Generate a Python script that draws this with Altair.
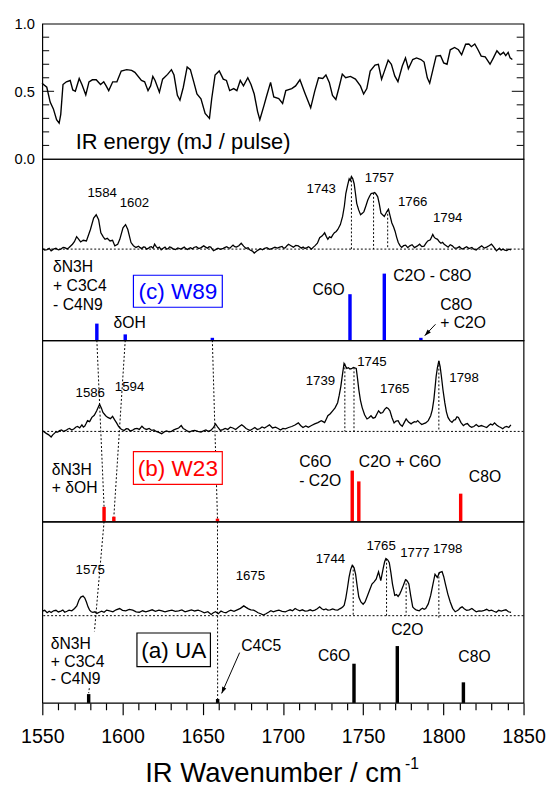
import altair as alt
import pandas as pd

FONT = "Liberation Sans"

# ---------------- data ----------------
# IR pulse energy: (wavenumber / cm-1, energy / mJ per pulse)
ir_energy = [
    (1549.8, 0.56), (1552.8, 0.53), (1554.9, 0.42), (1556.9, 0.37), (1558.9, 0.29), (1560.5, 0.265),
    (1561.5, 0.33), (1562.9, 0.55), (1565, 0.57), (1567.4, 0.58), (1569, 0.51), (1570.6, 0.50),
    (1573, 0.595), (1574.7, 0.55), (1577.1, 0.474), (1579.1, 0.57), (1581.2, 0.585), (1583.6, 0.585),
    (1586.3, 0.55), (1588.3, 0.57), (1589.8, 0.54), (1591.4, 0.505), (1593.9, 0.57), (1596.5, 0.57),
    (1599.2, 0.65), (1602.6, 0.66), (1605.7, 0.655), (1607.7, 0.64), (1611.8, 0.58), (1613.8, 0.57),
    (1615.9, 0.505), (1617.5, 0.54), (1618.9, 0.61), (1620.3, 0.58), (1623, 0.494), (1625, 0.59),
    (1628.1, 0.625), (1630.5, 0.66), (1632.1, 0.62), (1634.2, 0.47), (1635.8, 0.434), (1637.9, 0.53),
    (1640.3, 0.68), (1642.3, 0.66), (1644.4, 0.57), (1646.4, 0.48), (1648.9, 0.445), (1651.5, 0.337),
    (1654.2, 0.30), (1655.6, 0.445), (1657.7, 0.62), (1660.3, 0.65), (1662.8, 0.59), (1664.8, 0.58),
    (1666.8, 0.505), (1669.3, 0.52), (1671.3, 0.505), (1673.4, 0.58), (1675.4, 0.54), (1678.1, 0.60),
    (1680.1, 0.55), (1682.1, 0.48), (1684.2, 0.35), (1685.6, 0.29), (1688.3, 0.40), (1689.7, 0.46),
    (1692.3, 0.566), (1694.3, 0.458), (1697.4, 0.446), (1699.8, 0.41), (1701.8, 0.506), (1705.5, 0.52),
    (1707.9, 0.54), (1710.6, 0.585), (1713.6, 0.49), (1717.3, 0.378), (1719.8, 0.50), (1722.2, 0.60),
    (1724.8, 0.595), (1726.8, 0.62), (1728.9, 0.566), (1730.9, 0.47), (1733, 0.44), (1735, 0.53),
    (1737, 0.627), (1739.1, 0.60), (1742.1, 0.61), (1745.2, 0.59), (1748.3, 0.54), (1750.3, 0.48),
    (1752.3, 0.52), (1754.4, 0.65), (1757.4, 0.694), (1759.5, 0.70), (1761.5, 0.59), (1763, 0.64),
    (1765.6, 0.73), (1767.6, 0.70), (1769.7, 0.614), (1771.7, 0.571), (1774.4, 0.687), (1776.4, 0.747),
    (1778.2, 0.667), (1780.9, 0.735), (1783.3, 0.747), (1786, 0.735), (1788, 0.716), (1790, 0.60),
    (1791.5, 0.56), (1793.5, 0.66), (1795.5, 0.76), (1798.2, 0.764), (1800.2, 0.71), (1802.3, 0.70),
    (1804.3, 0.807), (1807, 0.824), (1809.4, 0.807), (1811.4, 0.77), (1813.9, 0.848), (1815.9, 0.85),
    (1817.5, 0.83), (1819.6, 0.85), (1821.6, 0.807), (1823.6, 0.76), (1826.1, 0.754), (1829.1, 0.70),
    (1831.2, 0.747), (1833.4, 0.80), (1835.5, 0.77), (1837.5, 0.788), (1838.9, 0.764), (1840.4, 0.788),
    (1841.6, 0.747), (1843, 0.735),
]

# IRPD spectra: (wavenumber / cm-1, intensity, arb. units above baseline)
w89_trace = [
    (1550, 0.7), (1551.5, -1.0), (1553, -0.5), (1554.3, 0.8), (1555.5, -1.7), (1557, 0.0), (1558.5, 1.0),
    (1560, -0.8), (1561.6, 0), (1563, 1.8), (1564, 1.5), (1565.5, 0.2), (1566.7, 1.7),
    (1568.8, 5), (1570, 7.5), (1571.4, 12.7), (1572.5, 10.5), (1573.9, 7.3), (1575.5, 9.0), (1577.5, 8.3),
    (1580, 20), (1582, 31.7), (1583.6, 35), (1585.1, 30), (1586.5, 16.7), (1588, 12.5), (1589.1, 10),
    (1590.5, 11), (1592.2, 8.3), (1593.8, 9.0), (1595.2, 3.3), (1597, 5), (1598.3, 10), (1600.3, 21.7),
    (1601.9, 25), (1603.3, 20), (1605.3, 6.7), (1606.8, 3.5), (1608.4, 1.7), (1610, 3.0), (1611, 1.5),
    (1612, 0.5), (1613, 2.2), (1614, 2.0), (1615, 0.0), (1616, 0.7), (1617, 2.0), (1618, 2.5), (1619, 1.0),
    (1620, 5), (1621, 2.5), (1622, 1.0), (1623, 2.0), (1624.1, -0.7), (1625.3, 0.8), (1626.5, 2.0),
    (1627.5, 0.0), (1628.5, 0.5), (1629.3, 2.2), (1630.2, 1.7), (1631.5, 0.3), (1633, -0.5), (1634.5, 1.2),
    (1636.3, 0), (1637.4, 1.0), (1638.5, 2.0), (1639.5, 0.5), (1640.5, -0.5), (1641.5, 0.8), (1642.5, 1.5),
    (1643.5, 0.2), (1644.5, 1.7), (1646, 2.5), (1647.5, 0.5), (1649, 1.5), (1650.6, 3.3), (1651.8, 2.0),
    (1653, 1.0), (1654, 2.5), (1655, 2.0), (1656.7, -1.7), (1658, -0.5), (1659.5, 1.0), (1661, -0.3),
    (1662.8, 0.7), (1664, 1.8), (1665, 2.5), (1666, 1.2), (1667, 1.0), (1668, 2.8), (1668.9, 4),
    (1670, 2.5), (1671, 2.0), (1672.5, 3.5), (1674, 6), (1675.5, 3.0), (1677, 0.7), (1678.3, 1.5),
    (1679.5, -1.0), (1681, -2.0), (1682.1, -4), (1683.3, -2.5), (1684.5, -1.0), (1686, 0.5), (1687.3, -0.7),
    (1688.6, 0.8), (1690, 1.5), (1691.7, -0.3), (1693.4, 0.7), (1695, 2.0), (1696.5, 1.0), (1698, 2.0),
    (1699.5, 2.7), (1700.5, 0.8), (1701.5, 1.5), (1702.5, 3.5), (1703.5, 5), (1705, 3.5), (1706.5, 2.0),
    (1708, 3.8), (1709.6, 3.3), (1710.5, 2.2), (1711.5, 1.0), (1712.6, 2.2), (1713.7, 0.7), (1715, 1.5),
    (1716, 2.5), (1717, 1.2), (1717.8, 0), (1719, 2.0), (1719.9, 3.3), (1721.5, 6.0), (1722.9, 11.7),
    (1724.5, 13.5), (1726, 16.7), (1727, 13.0), (1728, 10), (1729, 12.5), (1730.1, 11.7), (1731.1, 14.5),
    (1732.1, 16.7), (1733.2, 18.0), (1734.2, 20), (1735.8, 25.0), (1737.2, 33.3), (1738.3, 44.0),
    (1739.2, 56.7), (1740.3, 65.0), (1741.3, 71.7), (1742, 70.0), (1742.7, 74), (1743.5, 72.0),
    (1744.4, 66.7), (1745.2, 57.0), (1746, 46.7), (1747.2, 40.0), (1748.4, 35), (1749.5, 36.5),
    (1750.5, 38.3), (1751.7, 44.0), (1752.9, 50), (1754, 54.0), (1755, 56.7), (1756, 57.0), (1757.2, 57.7),
    (1758.1, 56.0), (1759.1, 53.3), (1760.1, 46.0), (1761.1, 36.7), (1762.1, 35.0), (1763.2, 33.3),
    (1764.8, 38.3), (1765.8, 40.7), (1766.8, 34.0), (1767.9, 26.7), (1769, 22.5), (1769.9, 18.3),
    (1770.9, 12.0), (1771.9, 6.7), (1773, 3.5), (1774, 1.7), (1775.2, 3.5), (1776.5, 4.0), (1777.8, 1.5),
    (1779.1, 3.3), (1780.5, 4.5), (1782, 1.5), (1783.6, 3.0), (1785.2, 5), (1786.6, 2.5), (1788, 3.0),
    (1789.2, 6.0), (1790.3, 8.3), (1791.9, 9.5), (1793.4, 15), (1794.2, 12.5), (1795, 11), (1796.4, 10),
    (1797.5, 7.5), (1798.5, 6.0), (1799.5, 7.0), (1800.5, 5), (1801.8, 3.5), (1803, 2.0), (1804.3, 4.5),
    (1805.6, 3.3), (1807, 1.0), (1808.5, 1.0), (1810, 2.5), (1811.7, 0), (1813, 1.0), (1814.5, 2.5),
    (1816, 0.5), (1817.8, 1.7), (1819, 0.0), (1820.5, -1.0), (1822.2, 1.5), (1823.9, 3.3), (1825.5, 1.0),
    (1827, 2.0), (1828.5, 3.5), (1830, 5), (1831.5, 2.0), (1833.1, -1.7), (1834, -0.5), (1835, 1.0),
    (1836, -1.0), (1837.2, 0), (1838.3, -1.0), (1839.5, -1.5), (1840.8, 0.0), (1842.2, -0.7),
]
w23_trace = [
    (1550, 1), (1551.2, -0.5), (1552.5, -2.0), (1554, -3.5), (1555.5, -5.7), (1556.5, -3.5), (1557.5, -2.0),
    (1558.5, -0.5), (1559.6, -0.7), (1560.8, 0.8), (1562, 1.5), (1563.3, 0.0), (1564.7, 1), (1566, 2.5),
    (1567, 3.0), (1568.4, 1.5), (1569.8, 2.7), (1571, 4.5), (1572, 5.0), (1573.3, 3.5), (1574.7, 6.7),
    (1575.6, 4.5), (1576.5, 5.5), (1577.3, 8.0), (1578.2, 11), (1579.5, 10.0), (1580.9, 14.3),
    (1582.4, 16.5), (1583.9, 21), (1585.7, 27.7), (1586.8, 24.0), (1587.8, 19.3), (1589.5, 16),
    (1590.8, 14.3), (1592.5, 13), (1593.8, 15.3), (1595, 12.0), (1596.3, 8.7), (1597.6, 5.0),
    (1598.9, 2.7), (1600, 1.5), (1601, 1.0), (1602.3, 2.8), (1603.5, 2.5), (1604.8, 0.5), (1606, 1),
    (1607.5, 2.5), (1609, 3.0), (1610.5, 2.0), (1612.1, 5.3), (1613.5, 3.0), (1615, 2.0), (1616.6, 3.0),
    (1618.3, 1), (1619.6, 1.5), (1621, 0.0), (1622.6, -1.0), (1624.4, -2.3), (1626, -0.5), (1627.5, 0.5),
    (1629, -0.5), (1630.5, 0), (1632, 1.5), (1633.5, 2.5), (1635, 3.5), (1636.6, 6), (1637.8, 3.0),
    (1639, 2.0), (1640.3, 0.5), (1641.7, -0.7), (1643.3, 0.5), (1645, 1.0), (1647, 0.0), (1648.9, -0.7),
    (1650.5, 0.5), (1652, 1.5), (1653.5, 0.0), (1655, 1), (1656.5, 3.5), (1658, 7.7), (1659.5, 4.0),
    (1661, 1), (1662.5, 1.8), (1664, 3.0), (1665.6, 2.0), (1667.2, 4.3), (1668.8, 3.5), (1670.5, 2.0),
    (1672.4, 4.5), (1674.3, 6.7), (1675.7, 5.0), (1677, 3.0), (1678.2, 2.0), (1679.4, 1), (1681, 2.5),
    (1682.5, 4.0), (1684, 2.0), (1685.5, 2.7), (1687, 4.5), (1688.5, 3.5), (1690, 5.0), (1691.6, 6.7),
    (1693.5, 3.5), (1695.4, 4.3), (1697, 3.0), (1698.5, 1.5), (1700, 3.0), (1701.5, 2.7), (1703.5, 4.0),
    (1705.5, 5.0), (1707.5, 6.5), (1709.6, 8.7), (1711, 6.0), (1712.5, 4.0), (1714.2, 5.5), (1715.8, 4.3),
    (1717.8, 6.0), (1719.8, 7.7), (1721.8, 9.0), (1723.9, 11), (1725, 10.0), (1726, 9.0), (1727, 12.5),
    (1728, 16), (1729.5, 18.0), (1731, 21), (1732.5, 24.0), (1734.1, 29.3), (1735.1, 37.0), (1736.1, 46),
    (1737.1, 58.0), (1738.1, 69.3), (1739.8, 64.3), (1740.8, 65.0), (1741.8, 63.7), (1742.8, 64.0),
    (1743.9, 65.3), (1745.7, 64.3), (1746.5, 54.0), (1747.3, 42.7), (1748.3, 32.0), (1749.4, 24.3),
    (1750.9, 17.0), (1752.4, 12.7), (1753.6, 14.0), (1754.9, 16), (1756.2, 13.5), (1757.5, 14.3),
    (1758.5, 17.5), (1759.6, 21), (1760.9, 18.5), (1762.2, 19.3), (1763.4, 22.5), (1764.6, 24.3),
    (1765.6, 23.5), (1766.7, 21), (1768, 14.0), (1769.3, 8.7), (1770.5, 10.5), (1771.8, 11), (1773.1, 7.0),
    (1774.4, 5.3), (1775.6, 9.0), (1776.8, 12.7), (1778.3, 9.5), (1779.9, 7.7), (1781, 9.0), (1782, 10),
    (1783, 9.5), (1784, 11), (1785.2, 9.0), (1786.5, 7.0), (1787.8, 8.0), (1789, 8.7), (1790.6, 11.0),
    (1792.1, 16), (1793.1, 22.0), (1794.1, 32.7), (1794.8, 44.0), (1795.5, 56), (1796.3, 65.0),
    (1797.2, 72), (1798, 66.0), (1798.8, 56), (1799.8, 42.0), (1800.9, 29.3), (1801.9, 20.0),
    (1802.9, 14.3), (1804.1, 11.0), (1805.4, 9.3), (1806.5, 11.5), (1807.5, 12), (1808.5, 15.0),
    (1809.4, 14.3), (1811, 9.0), (1812.5, 6), (1813.8, 7.5), (1815, 8.0), (1816.3, 5.5), (1817.6, 4.3),
    (1819, 5.0), (1820.5, 7.0), (1822, 5.0), (1823.7, 6), (1825.3, 5.0), (1827, 4.0), (1828.3, 6.0),
    (1829.5, 7.5), (1830.7, 6.5), (1831.9, 8.7), (1833.2, 6.5), (1834.5, 5.0), (1835.8, 4.0), (1837, 2.7),
    (1838.3, 4.5), (1839.5, 5.0), (1840.8, 4.0), (1842.1, 6.7),
]
ua_trace = [
    (1550, 4.7), (1551.5, 5.5), (1553, 3.0), (1554.3, 4.5), (1555.5, 3.3), (1557, 5.0), (1558.5, 5.5),
    (1560, 3.8), (1561.6, 4.7), (1562.8, 5.8), (1564, 3.5), (1565.4, 4.5), (1566.7, 5.7), (1568.4, 5.0),
    (1570.1, 7.3), (1571.5, 10.0), (1572.8, 15.7), (1574, 19.0), (1575.4, 20), (1576.5, 18.0),
    (1577.5, 14), (1578.5, 9.0), (1579.5, 5.7), (1580.5, 4.0), (1581.5, 3.5), (1582.8, 4.0), (1584, 2.3),
    (1585.5, 3.5), (1587, 4.5), (1588.5, 3.5), (1590.1, 5.7), (1592, 4.8), (1594, 4.0), (1596, 6.0),
    (1598.2, 7.3), (1600, 5.5), (1602, 5.0), (1604.2, 6.5), (1606.4, 5.7), (1608.5, 4.0), (1610.5, 3.5),
    (1612.5, 5.0), (1614.5, 4), (1616.5, 5.0), (1618.5, 6.0), (1620.5, 4.5), (1622.7, 5.7), (1624.6, 5.0),
    (1626.5, 4.0), (1628.6, 5.0), (1630.8, 5.7), (1632.9, 4.5), (1635, 5.0), (1637, 5.8), (1639, 4),
    (1641, 5.0), (1643, 6.0), (1645, 4.8), (1647.1, 5.7), (1649, 4.5), (1651, 3.0), (1653.2, 4.0),
    (1655.3, 1.3), (1656.6, 3.0), (1658, 4.0), (1659.7, 2.0), (1661.4, 4.7), (1663, 3.5), (1664.5, 3.0),
    (1666, 4.5), (1667.5, 5.7), (1669.5, 4.5), (1671.5, 6.0), (1673.5, 7.5), (1675.6, 10), (1677, 8.5),
    (1678.5, 7.0), (1680, 6.0), (1681.7, 5.7), (1683, 4.5), (1684.5, 3.0), (1686.2, 2.0), (1687.8, 0.7),
    (1689.4, 2.0), (1691, 3.5), (1692.5, 5.0), (1694, 4), (1695.7, 5.0), (1697.5, 5.7), (1699.5, 4.5),
    (1701.5, 4), (1703, 5.0), (1704.5, 6.0), (1706, 5.0), (1707.6, 7.3), (1709, 6.0), (1710.5, 5.0),
    (1712.1, 6.0), (1713.8, 4.7), (1715.4, 5.0), (1717, 6.0), (1718.4, 5.0), (1719.9, 5.7), (1721.4, 7.0),
    (1722.9, 9), (1724.2, 7.0), (1725.5, 6.0), (1726.8, 6.8), (1728, 5.7), (1729.5, 6.0), (1731, 7.0),
    (1732.6, 6.0), (1734.2, 5.7), (1735.4, 7.0), (1736.5, 8.0), (1737.4, 9.0), (1738.2, 10.7),
    (1739.2, 18.0), (1740.2, 28.0), (1741.2, 39), (1742.2, 47.0), (1743.2, 51.3), (1744.3, 49.0),
    (1745.3, 42.3), (1746.3, 30.0), (1747.3, 19), (1748.6, 14.0), (1750, 11.7), (1751.2, 14.0),
    (1752.4, 19), (1754, 26.0), (1755.5, 32.3), (1756.8, 34.5), (1758.1, 37.3), (1759.6, 44.7),
    (1761, 35.7), (1762.6, 49), (1763.4, 55.0), (1764.2, 58.3), (1765.3, 57.0), (1766.3, 54), (1767.3, 44.0),
    (1768.3, 32.3), (1769.7, 20.7), (1770.8, 21.5), (1771.8, 19.7), (1772.8, 22.0), (1773.8, 25.7),
    (1775.1, 31.0), (1776.4, 36.7), (1777.5, 35.5), (1778.5, 32.3), (1779.7, 20.0), (1780.9, 9),
    (1782, 7.0), (1783, 6.0), (1784, 5.5), (1785, 5), (1786, 6.5), (1787, 7.5), (1788, 6.5), (1789, 7.3),
    (1790.6, 12.0), (1792.1, 20.7), (1793.5, 32.0), (1794.8, 42.3), (1796.2, 39), (1797.6, 44),
    (1799.2, 45), (1800.2, 40.0), (1801.3, 32.3), (1802.8, 22.0), (1804.3, 14), (1805.8, 7.5), (1807.4, 4),
    (1808.5, 5.0), (1809.5, 6.0), (1810.6, 8.0), (1811.7, 9), (1813, 7.0), (1814.5, 5.5), (1816.2, 6.0),
    (1817.8, 7.3), (1819.2, 5.5), (1820.5, 4.0), (1822.2, 5.0), (1823.9, 4.7), (1825.5, 5.5), (1827, 6.5),
    (1828.5, 5.0), (1830, 5.7), (1831.5, 4.5), (1833, 3.5), (1834.5, 5.5), (1836.1, 4.7), (1837.5, 5.5),
    (1839, 6.0), (1840.6, 4.0), (1842.2, 3.3),
]

# calculated stick spectra: (wavenumber / cm-1, intensity, arb. units)
w89_sticks = [(1584, 17), (1601.7, 6), (1656, 2.5), (1741.8, 47), (1763.2, 68), (1786, 2.5)]
w23_sticks = [(1588.5, 15), (1594.6, 5), (1659.2, 3), (1743.2, 52), (1747.3, 41), (1810.8, 28.5)]
ua_sticks = [(1578.9, 9), (1659.3, 4), (1744.3, 40), (1771.3, 58), (1812.5, 21)]

# peak labels (text, wavenumber, height)
w89_peaks = [("1584", 1587.3, 57), ("1602", 1607.4, 47), ("1743", 1723.9, 61),
             ("1757", 1760.1, 72.3), ("1766", 1780.9, 48.3), ("1794", 1802.7, 31.7)]
w23_peaks = [("1586", 1579.9, 38.7), ("1594", 1604.4, 45.3), ("1739", 1723.4, 51),
             ("1745", 1755.5, 71), ("1765", 1769.7, 42.7), ("1798", 1812.9, 54.3)]
ua_peaks = [("1575", 1579.9, 46.7), ("1675", 1679.7, 40.7), ("1744", 1729.6, 57.3),
            ("1765", 1761.2, 70.7), ("1777", 1782.3, 64), ("1798", 1802.7, 68)]

# mode assignments (text, wavenumber, height, align)
w89_modes = [("δN3H", 1556.7, -18, "left"), ("+ C3C4", 1556.7, -38, "left"), ("- C4N9", 1556.7, -56.7, "left"),
             ("δOH", 1604.4, -75.7, "center"), ("C6O", 1728.4, -41.7, "center"),
             ("C2O - C8O", 1768.7, -27.7, "left"), ("C8O", 1798, -56.7, "left"), ("+ C2O", 1798, -76, "left")]
w23_modes = [("δN3H", 1555.9, -39, "left"), ("+ δOH", 1555.9, -58, "left"), ("C6O", 1710.2, -31.7, "left"),
             ("- C2O", 1710.2, -50.7, "left"), ("C2O + C6O", 1747.3, -31.7, "left"), ("C8O", 1815.9, -46.7, "left")]
ua_modes = [("δN3H", 1555.3, -29.3, "left"), ("+ C3C4", 1555.3, -47.7, "left"), ("- C4N9", 1555.3, -64.3, "left"),
            ("C4C5", 1674, -31, "left"), ("C6O", 1731.9, -41, "center"), ("C2O", 1777.5, -14.3, "center"),
            ("C8O", 1819.4, -42.7, "center")]

# dotted peak markers (wavenumber, top, bottom)
w89_marks = [(1742.7, 74, 0), (1756.5, 57.3, 0), (1765.3, 40, 0)]
w23_marks = [(1738.6, 69.3, 0), (1744.3, 65.3, 0), (1797.2, 72, 0)]
ua_marks = [(1743.8, 51, 0), (1764.6, 58, 0), (1776.8, 37, 0), (1797.2, 44, -2)]

# dotted correlation lines between panels (wn1, v1, wn2, v2)
w23_links = [(1584, 93, 1588.5, -77), (1601.7, 93, 1594.6, -87), (1656, 93, 1659.2, -89)]
ua_links = [(1588.5, 96, 1582.5, -16), (1579.3, -74, 1578.9, -79), (1659.2, 96, 1659.3, -85)]

# ---------------- layout ----------------
PW = 491
TOP_H = 138
SP_H = 185
X_DOM = [1550, 1850]
W89_DOM = [-93, 92]
W23_DOM = [-92, 93]
UA_DOM = [-89, 96]
BLUE = "#0000ff"
RED = "#ff0000"

xs = alt.Scale(domain=X_DOM, nice=False, zero=False)

bottom_axis = alt.Axis(
    values=list(range(1550, 1851, 10)),
    labelExpr="datum.value % 50 === 0 ? datum.label : ''",
    format="d",
    tickSize={"condition": {"test": "datum.value % 50 === 0", "value": 12}, "value": 7},
    tickColor="black", tickWidth=1.2, labelFontSize=20, labelPadding=12, labelColor="black",
    labelFont=FONT, labelOverlap=False, labelFlush=False, domain=False, grid=False, title=None,
)


def xch(field, axis=None):
    return alt.X(f"{field}:Q", scale=xs, axis=axis)


def spectrum_panel(trace, sticks, color, ydom, peaks, modes, marks, links, box, arrow=None, axis=None, extra=()):
    ys = alt.Scale(domain=ydom, nice=False, zero=False)

    def ych(f):
        return alt.Y(f"{f}:Q", scale=ys, axis=None)

    layers = []
    layers.append(alt.Chart(pd.DataFrame({"v": [0.0]})).mark_rule(
        color="black", strokeWidth=1, strokeDash=[2, 2]).encode(y=ych("v")))
    md = pd.DataFrame(marks, columns=["wn", "v1", "v0"])
    layers.append(alt.Chart(md).mark_rule(color="black", strokeWidth=1, strokeDash=[2, 2]).encode(
        x=xch("wn", axis), y=ych("v1"), y2="v0:Q"))
    if links:
        lk = pd.DataFrame(links, columns=["wn", "v", "wn2", "v2"])
        layers.append(alt.Chart(lk).mark_rule(color="black", strokeWidth=1, strokeDash=[2, 2]).encode(
            x=xch("wn", axis), x2="wn2:Q", y=ych("v"), y2="v2:Q"))
    tr = pd.DataFrame(trace, columns=["wn", "v"])
    layers.append(alt.Chart(tr).mark_line(color="black", strokeWidth=1.3).encode(
        x=xch("wn", axis), y=ych("v")))
    st = pd.DataFrame(sticks, columns=["wn", "h"])
    st["y0"] = ydom[0]
    st["y1"] = ydom[0] + st["h"]
    layers.append(alt.Chart(st).mark_rule(color=color, strokeWidth=3.5).encode(
        x=xch("wn", axis), y=ych("y0"), y2="y1:Q"))
    pk = pd.DataFrame(peaks, columns=["t", "wn", "v"])
    layers.append(alt.Chart(pk).mark_text(fontSize=13.5, align="center", baseline="middle", color="black",
                                          font=FONT).encode(x=xch("wn", axis), y=ych("v"), text="t:N"))
    mo = pd.DataFrame(modes, columns=["t", "wn", "v", "al"])
    for al in ["left", "center"]:
        sub = mo[mo["al"] == al]
        if len(sub):
            layers.append(alt.Chart(sub).mark_text(fontSize=16, align=al, baseline="middle", color="black",
                                                   font=FONT).encode(x=xch("wn", axis), y=ych("v"), text="t:N"))
    label, bcolor, x0, x1, y0, y1 = box
    bx = pd.DataFrame({"x0": [x0], "x1": [x1], "y0": [y0], "y1": [y1],
                       "xc": [(x0 + x1) / 2], "yc": [(y0 + y1) / 2], "t": [label]})
    layers.append(alt.Chart(bx).mark_rect(fill="white", stroke=bcolor, strokeWidth=1.2).encode(
        x=xch("x0", axis), x2="x1:Q", y=ych("y0"), y2="y1:Q"))
    layers.append(alt.Chart(bx).mark_text(fontSize=23, align="center", baseline="middle", color=bcolor,
                                          font=FONT, dy=1).encode(x=xch("xc", axis), y=ych("yc"), text="t:N"))
    if arrow is not None:
        (ax0, ay0, ax1, ay1, ang) = arrow
        ar = pd.DataFrame({"wn": [ax0], "v": [ay0], "wn2": [ax1], "v2": [ay1]})
        layers.append(alt.Chart(ar).mark_rule(color="black", strokeWidth=1).encode(
            x=xch("wn", axis), x2="wn2:Q", y=ych("v"), y2="v2:Q"))
        layers.append(alt.Chart(ar).mark_point(shape="M0,0L0.75,2.2L-0.75,2.2Z", filled=True, color="black",
                                               opacity=1, size=36, angle=ang).encode(
            x=xch("wn2", axis), y=ych("v2")))
    layers.extend(extra)
    return alt.layer(*layers).properties(width=PW, height=SP_H)


# ---- top panel: IR energy ----
ys_top = alt.Scale(domain=[0, 1], nice=False, zero=False)
top_yaxis = alt.Axis(values=[0, 0.5, 1], format=".1f", ticks=False, domain=False, grid=False, title=None,
                     labelFontSize=15, labelPadding=8, labelColor="black", labelFont=FONT)
ir_df = pd.DataFrame(ir_energy, columns=["wn", "e"])
top_line = alt.Chart(ir_df).mark_line(color="black", strokeWidth=1.4).encode(
    x=xch("wn"), y=alt.Y("e:Q", scale=ys_top, axis=top_yaxis))
major_t = pd.DataFrame({"t": [0.5]})
minor_t = pd.DataFrame({"t": [0.1, 0.2, 0.3, 0.4, 0.6, 0.7, 0.8, 0.9]})


def tick_rules(df, a, b):
    return alt.Chart(df).mark_rule(color="black", strokeWidth=1).encode(
        y=alt.Y("t:Q", scale=ys_top, axis=top_yaxis), x=alt.value(a), x2=alt.value(b))


top_text = alt.Chart(pd.DataFrame({"s": ["IR energy (mJ / pulse)"]})).mark_text(
    fontSize=22.3, align="left", baseline="alphabetic", color="black", font=FONT).encode(
    x=alt.value(34), y=alt.value(128), text="s:N")
top = alt.layer(top_line, tick_rules(major_t, 0, 12), tick_rules(minor_t, 0, 7),
                tick_rules(major_t, PW, PW - 12), tick_rules(minor_t, PW, PW - 7), top_text
                ).properties(width=PW, height=TOP_H)

p89 = spectrum_panel(w89_trace, w89_sticks, BLUE, W89_DOM, w89_peaks, w89_modes, w89_marks, [],
                     ("(c) W89", BLUE, 1606.8, 1662.2, -26.7, -59.3),
                     arrow=(1795.1, -76.7, 1788.4, -88.3, 223.5))
p23 = spectrum_panel(w23_trace, w23_sticks, RED, W23_DOM, w23_peaks, w23_modes, w23_marks, w23_links,
                     ("(b) W23", RED, 1606.8, 1662.2, -20.7, -54))

title_main = alt.Chart(pd.DataFrame({"s": ["IR Wavenumber / cm"]})).mark_text(
    fontSize=28, align="left", baseline="alphabetic", color="black", font=FONT).encode(
    x=alt.value(105), y=alt.value(266), text="s:N")
title_sup = alt.Chart(pd.DataFrame({"s": ["-1"]})).mark_text(
    fontSize=16, align="left", baseline="alphabetic", color="black", font=FONT).encode(
    x=alt.value(370), y=alt.value(252), text="s:N")

pua = spectrum_panel(ua_trace, ua_sticks, "black", UA_DOM, ua_peaks, ua_modes, ua_marks, ua_links,
                     ("(a) UA", "black", 1609, 1654.8, -17.7, -52),
                     arrow=(1673, -37.7, 1661.8, -79.3, 203.8), axis=bottom_axis,
                     extra=(title_main, title_sup))

chart = alt.vconcat(top, p89, p23, pua, spacing=0, bounds="flush").configure(
    font=FONT, padding={"left": 5, "top": 0, "right": 5, "bottom": 0}
).configure_view(stroke="black", strokeWidth=1.2)

chart.save("out.html", embed_options={"renderer": "svg", "actions": False})
